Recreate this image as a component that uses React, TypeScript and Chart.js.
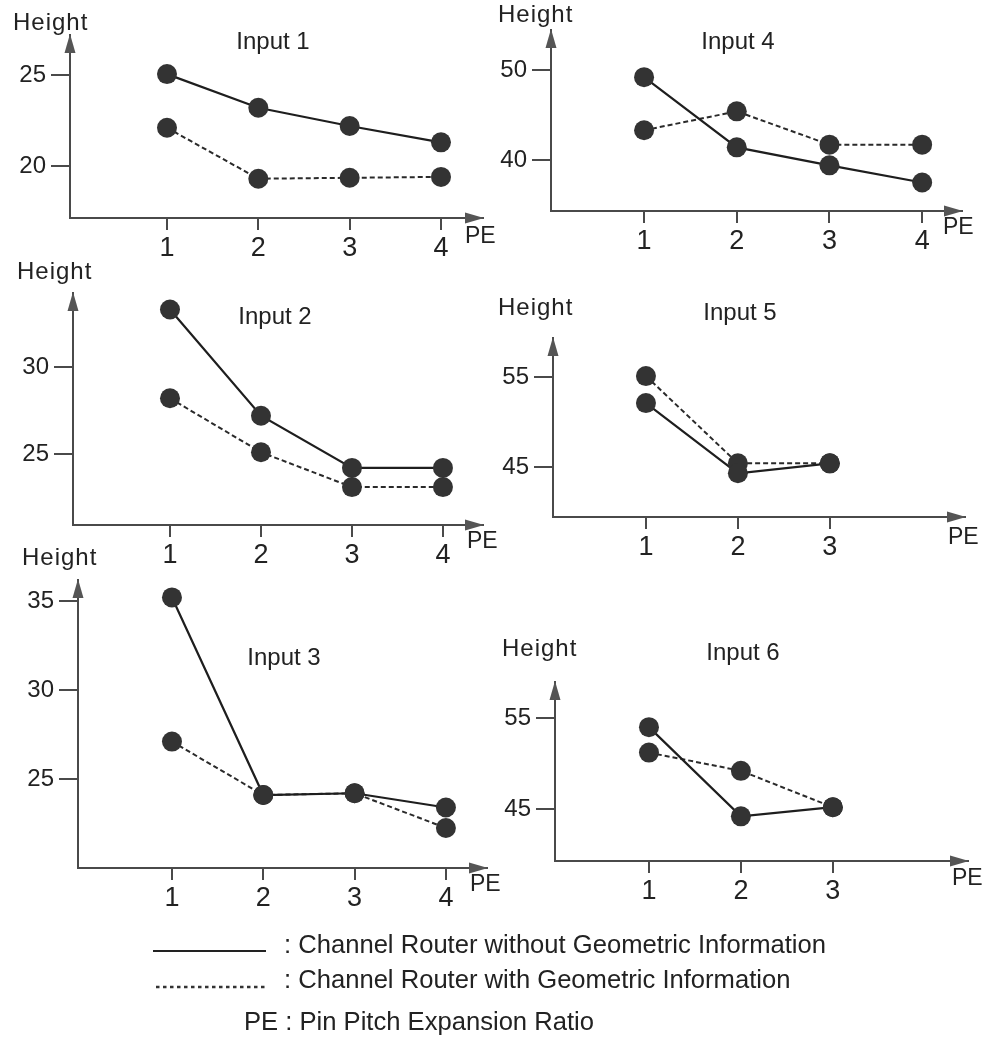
import { useEffect, useRef } from 'react';
import { Chart, registerables } from 'chart.js';

Chart.register(...registerables);

// Pin pitch expansion ratios plotted on the x axis
const peFour = [1, 2, 3, 4];
const peThree = [1, 2, 3];

// Channel height per input, router without / with geometric information
const input1Without = [25.05, 23.2, 22.2, 21.3];
const input1With = [22.1, 19.3, 19.35, 19.4];
const input1Ticks = [20, 25];

const input4Without = [49.2, 41.4, 39.4, 37.5];
const input4With = [43.3, 45.4, 41.7, 41.7];
const input4Ticks = [40, 50];

const input2Without = [33.3, 27.2, 24.2, 24.2];
const input2With = [28.2, 25.1, 23.1, 23.1];
const input2Ticks = [25, 30];

const input5Without = [52.1, 44.3, 45.4];
const input5With = [55.1, 45.4, 45.4];
const input5Ticks = [45, 55];

const input3Without = [35.2, 24.1, 24.2, 23.4];
const input3With = [27.1, 24.1, 24.2, 22.25];
const input3Ticks = [25, 30, 35];

const input6Without = [54.0, 44.2, 45.2];
const input6With = [51.2, 49.2, 45.2];
const input6Ticks = [45, 55];

const legendWithout = ': Channel Router without Geometric Information';
const legendWith = ': Channel Router with Geometric Information';
const legendPE = 'PE : Pin Pitch Expansion Ratio';

const FONT = '"Liberation Sans", Arial, Helvetica, sans-serif';
const TEXT = '#222';
const AXIS = '#4a4a4a';
const PAD_L = 75;
const PAD_T = 45;
const PAD_R = 35;
const PAD_B = 45;

type Panel = {
  title: string;
  pe: number[];
  without: number[];
  withGeo: number[];
  yTicks: number[];
  xRange: [number, number];
  yRange: [number, number];
  area: { left: number; top: number; width: number; height: number };
  heightAt: [number, number];
  titleAt: [number, number];
  peAt: [number, number];
};

const panels: Panel[] = [
  {
    title: 'Input 1', pe: peFour, without: input1Without, withGeo: input1With, yTicks: input1Ticks,
    xRange: [-0.062, 4.46], yRange: [17.14, 27.2],
    area: { left: 70, top: 35, width: 413, height: 183 },
    heightAt: [-57, -12], titleAt: [203, 7], peAt: [-18, 19],
  },
  {
    title: 'Input 4', pe: peFour, without: input4Without, withGeo: input4With, yTicks: input4Ticks,
    xRange: [-0.004, 4.43], yRange: [34.33, 54.44],
    area: { left: 551, top: 30, width: 411, height: 181 },
    heightAt: [-53, -15], titleAt: [187, 12], peAt: [-19, 17],
  },
  {
    title: 'Input 2', pe: peFour, without: input2Without, withGeo: input2With, yTicks: input2Ticks,
    xRange: [-0.066, 4.44], yRange: [20.92, 34.25],
    area: { left: 73, top: 293, width: 410, height: 232 },
    heightAt: [-56, -21], titleAt: [202, 24], peAt: [-16, 17],
  },
  {
    title: 'Input 5', pe: peThree, without: input5Without, withGeo: input5With, yTicks: input5Ticks,
    xRange: [-0.011, 4.47], yRange: [39.44, 59.33],
    area: { left: 553, top: 338, width: 412, height: 179 },
    heightAt: [-55, -30], titleAt: [187, -25], peAt: [-17, 21],
  },
  {
    title: 'Input 3', pe: peFour, without: input3Without, withGeo: input3With, yTicks: input3Ticks,
    xRange: [-0.029, 4.45], yRange: [20.0, 36.18],
    area: { left: 78, top: 580, width: 409, height: 288 },
    heightAt: [-56, -22], titleAt: [206, 78], peAt: [-17, 17],
  },
  {
    title: 'Input 6', pe: peThree, without: input6Without, withGeo: input6With, yTicks: input6Ticks,
    xRange: [-0.022, 4.47], yRange: [39.29, 58.96],
    area: { left: 555, top: 682, width: 413, height: 179 },
    heightAt: [-53, -33], titleAt: [188, -29], peAt: [-16, 18],
  },
];

// Arrowheads, axis names and the panel caption
const decorations = {
  id: 'panelDecorations',
  afterDraw(chart: any, _args: any, opts: any) {
    const p: Panel = opts.panel;
    const { ctx, chartArea } = chart;
    const { left, top, right, bottom } = chartArea;
    ctx.save();
    ctx.fillStyle = '#555';
    // y axis arrow
    ctx.beginPath();
    ctx.moveTo(left, top - 1);
    ctx.lineTo(left - 5.5, top + 18);
    ctx.lineTo(left + 5.5, top + 18);
    ctx.closePath();
    ctx.fill();
    // x axis arrow
    ctx.beginPath();
    ctx.moveTo(right + 1, bottom);
    ctx.lineTo(right - 18, bottom - 5.5);
    ctx.lineTo(right - 18, bottom + 5.5);
    ctx.closePath();
    ctx.fill();

    ctx.fillStyle = TEXT;
    ctx.textBaseline = 'middle';
    ctx.textAlign = 'left';
    ctx.font = `24px ${FONT}`;
    (ctx as any).letterSpacing = '1px';
    ctx.fillText('Height', left + p.heightAt[0], top + p.heightAt[1]);
    (ctx as any).letterSpacing = '0px';
    ctx.font = `23px ${FONT}`;
    ctx.fillText('PE', right + p.peAt[0], bottom + p.peAt[1]);
    ctx.font = `24px ${FONT}`;
    ctx.textAlign = 'center';
    ctx.fillText(p.title, left + p.titleAt[0], top + p.titleAt[1]);
    ctx.restore();
  },
};

function PanelChart({ panel }: { panel: Panel }) {
  const ref = useRef<HTMLCanvasElement>(null);
  const w = panel.area.width + PAD_L + PAD_R;
  const h = panel.area.height + PAD_T + PAD_B;

  useEffect(() => {
    const canvas = ref.current;
    if (!canvas) return;
    const toPoints = (vals: number[]) => vals.map((v, i) => ({ x: panel.pe[i], y: v }));
    const dot = {
      showLine: false,
      pointRadius: 10,
      pointBackgroundColor: '#333',
      pointBorderWidth: 0,
      pointHoverRadius: 10,
      clip: false as const,
      order: 1,
    };
    const chart = new Chart(canvas, {
      type: 'line',
      data: {
        datasets: [
          {
            label: 'without',
            data: toPoints(panel.without),
            borderColor: '#1e1e1e',
            borderWidth: 2.2,
            pointRadius: 0,
            tension: 0,
            clip: false,
            order: 3,
          },
          {
            label: 'with',
            data: toPoints(panel.withGeo),
            borderColor: '#2a2a2a',
            borderWidth: 2,
            borderDash: [5, 3],
            pointRadius: 0,
            tension: 0,
            clip: false,
            order: 4,
          },
          { label: 'without points', data: toPoints(panel.without), ...dot },
          { label: 'with points', data: toPoints(panel.withGeo), ...dot },
        ],
      },
      options: {
        animation: false,
        responsive: false,
        maintainAspectRatio: false,
        events: [],
        layout: { padding: { left: 0, top: PAD_T, right: PAD_R, bottom: 0 } },
        plugins: {
          legend: { display: false },
          tooltip: { enabled: false },
          title: { display: false },
          panelDecorations: { panel },
        } as any,
        scales: {
          x: {
            type: 'linear',
            min: panel.xRange[0],
            max: panel.xRange[1],
            afterBuildTicks: (s: any) => {
              s.ticks = panel.pe.map((v) => ({ value: v }));
            },
            afterFit: (s: any) => {
              s.height = PAD_B;
            },
            grid: { drawOnChartArea: false, drawTicks: true, tickLength: 12, color: AXIS, lineWidth: 2 },
            border: { display: true, color: AXIS, width: 2 },
            ticks: {
              padding: 2,
              color: TEXT,
              autoSkip: false,
              maxRotation: 0,
              font: { family: FONT, size: 27 },
            },
          },
          y: {
            type: 'linear',
            min: panel.yRange[0],
            max: panel.yRange[1],
            afterBuildTicks: (s: any) => {
              s.ticks = panel.yTicks.map((v) => ({ value: v }));
            },
            afterFit: (s: any) => {
              s.width = PAD_L;
            },
            grid: { drawOnChartArea: false, drawTicks: true, tickLength: 19, color: AXIS, lineWidth: 2 },
            border: { display: true, color: AXIS, width: 2 },
            ticks: {
              padding: 5,
              color: TEXT,
              autoSkip: false,
              font: { family: FONT, size: 24 },
            },
          },
        },
      },
      plugins: [decorations],
    });
    return () => chart.destroy();
  }, [panel]);

  return (
    <canvas
      ref={ref}
      width={w}
      height={h}
      style={{
        position: 'absolute',
        left: panel.area.left - PAD_L,
        top: panel.area.top - PAD_T,
        width: w,
        height: h,
      }}
    />
  );
}

const legendText: React.CSSProperties = {
  position: 'absolute',
  fontFamily: FONT,
  fontSize: 25.6,
  lineHeight: '26px',
  color: TEXT,
  whiteSpace: 'nowrap',
};

export default function App() {
  return (
    <div style={{ position: 'absolute', left: 0, top: 0, width: 989, height: 1050, background: '#fff', overflow: 'hidden' }}>
      {panels.map((p) => (
        <PanelChart key={p.title} panel={p} />
      ))}
      <svg style={{ position: 'absolute', left: 0, top: 0 }} width={989} height={1050}>
        <line x1={153} y1={951} x2={266} y2={951} stroke="#222" strokeWidth={2} />
        <line x1={156} y1={987} x2={266} y2={987} stroke="#333" strokeWidth={2.5} strokeDasharray="3.5 3.5" />
      </svg>
      <div style={{ ...legendText, left: 284, top: 931 }}>{legendWithout}</div>
      <div style={{ ...legendText, left: 284, top: 966 }}>{legendWith}</div>
      <div style={{ ...legendText, left: 244, top: 1008 }}>{legendPE}</div>
    </div>
  );
}
